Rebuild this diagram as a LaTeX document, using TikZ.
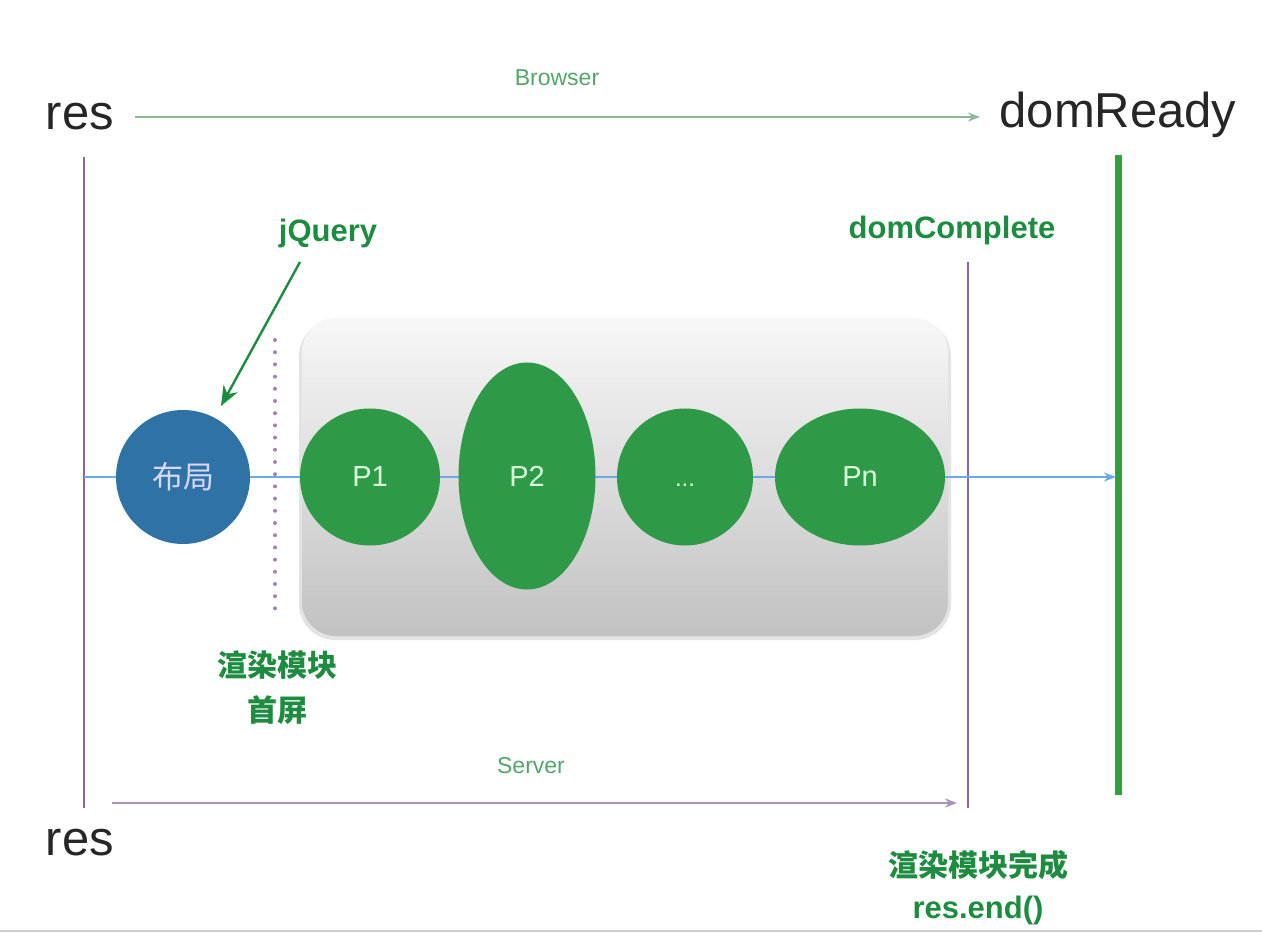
\documentclass[tikz,border=0pt]{standalone}
\usepackage{fontspec}
\setmainfont{Liberation Sans}
\newfontfamily\cjk{Noto Sans CJK SC}
\usetikzlibrary{arrows.meta,shapes.geometric}
\definecolor{pgreen}{HTML}{2E9A48}
\definecolor{tgreen}{HTML}{1E8C40}
\definecolor{lgreen}{HTML}{8CB89A}
\definecolor{bgreen}{HTML}{55A56A}
\definecolor{pblue}{HTML}{2F72A6}
\definecolor{lblue}{HTML}{6AAAE8}
\definecolor{ppurple}{HTML}{8A64A6}
\definecolor{lpurple}{HTML}{A892BC}
\definecolor{barg}{HTML}{33A03C}
\begin{document}
\begin{tikzpicture}[x=1pt,y=-1pt,
  bigtxt/.style={font=\fontsize{49}{49}\selectfont, text=black!85, inner sep=0pt},
  smalltxt/.style={font=\fontsize{23}{23}\selectfont, text=bgreen, inner sep=0pt},
  boldtxt/.style={font=\fontsize{31}{31}\selectfont\bfseries, text=tgreen, inner sep=0pt},
  cjktxt/.style={font=\fontsize{30}{30}\selectfont\cjk\bfseries, text=tgreen, inner sep=0pt},
  blob/.style={ellipse, fill=pgreen, draw=none, text=white!85!green, font=\fontsize{29}{29}\selectfont, inner sep=0pt},
  vline/.style={draw=ppurple, line width=1.4pt},
  tip/.style={-{Stealth[length=12pt,width=9pt]}}
]
\useasboundingbox (0,0) rectangle (1262,933);
\fill[white] (0,0) rectangle (1262,933);

% labels
\node[bigtxt] (resT) at (80,117) {res};
\node[bigtxt] (domR) at (1118,115) {domReady};
\node[bigtxt] (resB) at (80,843) {res};
\node[smalltxt] (browser) at (557,78) {Browser};
\node[smalltxt] (server) at (531,766) {Server};
\node[boldtxt] (jq) at (328,233) {jQuery};
\node[boldtxt] (domC) at (952,230) {domComplete};
\node[cjktxt] (xr1) at (277,665) {渲染模块};
\node[cjktxt] (xr2) at (277,710) {首屏};
\node[cjktxt] (xr3) at (978,865) {渲染模块完成};
\node[boldtxt] (rend) at (978,910) {res.end()};

% coordinates
\coordinate (bA) at (135,117);
\coordinate (bB) at (980,117);
\coordinate (sA) at (112,803);
\coordinate (sB) at (957,803);
\coordinate (l1t) at (84,157);
\coordinate (l1b) at (84,808);
\coordinate (l2t) at (968,262);
\coordinate (l2b) at (968,808);
\coordinate (gt) at (1118,155);
\coordinate (gb) at (1118,795);
\coordinate (hA) at (84,477);
\coordinate (hB) at (1116,477);
\coordinate (dT) at (275,340);
\coordinate (dB) at (275,612);
\coordinate (jA) at (300,262);
\coordinate (jB) at (221,406);

% arrows
\draw[lgreen, line width=2.2pt, tip] (bA) -- (bB);
\draw[lpurple, line width=2.2pt, tip] (sA) -- (sB);
\draw[vline] (l1t) -- (l1b);
\draw[vline] (l2t) -- (l2b);
\draw[barg, line width=7pt] (gt) -- (gb);

% panel
\fill[gray!22, rounded corners=36pt] (299,320) rectangle (951,640);
\shade[top color=black!3, bottom color=black!24, rounded corners=34pt] (302,318) rectangle (948,636);

% horizontal flow line
\draw[lblue, line width=1.8pt, tip] (hA) -- (hB);

% dotted line
\draw[ppurple!80, line width=4pt, line cap=round, dash pattern=on 0pt off 12.2pt] (dT) -- (dB);

% nodes
\node[circle, fill=pblue, minimum size=134pt, inner sep=0pt, text=white!85!blue, font=\fontsize{31}{31}\selectfont\cjk] (bj) at (183,477) {布局};
\node[blob, minimum width=140pt, minimum height=137pt] (p1) at (370,477) {P1};
\node[blob, minimum width=137pt, minimum height=227pt] (p2) at (527,476) {P2};
\node[blob, minimum width=136pt, minimum height=137pt] (p3) at (685,477) {\vphantom{P}{\fontsize{24}{24}\selectfont...}};
\node[blob, minimum width=170pt, minimum height=137pt] (pn) at (860,477) {Pn};

\draw[tgreen, line width=2.4pt, -{Stealth[length=20pt,width=16pt]}] (jA) -- (jB);

% bottom border
\draw[black!20, line width=2pt] (0,931) -- (1262,931);
\end{tikzpicture}
\end{document}
